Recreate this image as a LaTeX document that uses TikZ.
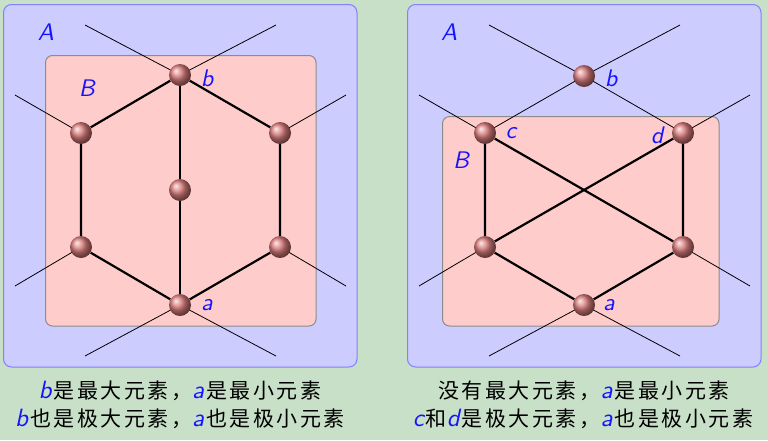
\documentclass[tikz,border=0pt]{standalone}
\usepackage{fontspec}
\newfontfamily\cjk[LetterSpace=12]{Noto Sans CJK SC}
\newfontfamily\mvfont[Extension=.otf]{lmsans10-oblique}
\usetikzlibrary{shadings}
\definecolor{bgc}{RGB}{200,223,200}
\definecolor{boxa}{RGB}{204,204,255}
\definecolor{boxaedge}{RGB}{130,130,250}
\definecolor{boxb}{RGB}{255,204,204}
\definecolor{boxbedge}{RGB}{140,140,140}
\definecolor{ballc}{RGB}{220,125,125}
\definecolor{lab}{RGB}{20,20,255}
\newcommand\mv[1]{{\color{lab}\mvfont #1}}
\newcommand\mvc[1]{{\color{lab}\mvfont\fontsize{25}{26}\selectfont #1\kern2pt}}
\pgfdeclarelayer{bgl}
\pgfdeclarelayer{boxes}
\pgfdeclarelayer{edges}
\pgfsetlayers{bgl,boxes,edges,main}
\tikzset{
  vtx/.style={circle, minimum size=22pt, inner sep=0pt, shading=ball, ball color=ballc},
  seta/.style={fill=boxa, draw=boxaedge, line width=1pt, rounded corners=8pt},
  setb/.style={fill=boxb, draw=boxbedge, line width=1pt, rounded corners=7pt},
  thick edge/.style={line width=2.2pt, black},
  thin edge/.style={line width=0.8pt, black},
  lbl/.style={font=\fontsize{24}{26}\selectfont, inner sep=0pt, text=lab},
  captxt/.style={font=\fontsize{21}{23}\selectfont\cjk, inner sep=0pt, anchor=center}
}
\begin{document}
\begin{tikzpicture}[x=1pt,y=-1pt]
\begin{pgfonlayer}{bgl}
\fill[bgc] (0,0) rectangle (768,440);
\end{pgfonlayer}
\useasboundingbox (0,0) rectangle (768,440);
% ---------- left panel ----------
\begin{pgfonlayer}{boxes}
\draw[seta] (3.5,4.5) rectangle (357,367);
\draw[setb] (45.5,55.5) rectangle (316,326);
\end{pgfonlayer}
\node[vtx] (Lb) at (180,75) {};
\node[vtx] (Ltl) at (81,133) {};
\node[vtx] (Ltr) at (280,133) {};
\node[vtx] (Lm) at (180,190) {};
\node[vtx] (Lbl) at (81,247) {};
\node[vtx] (Lbr) at (280,247) {};
\node[vtx] (La) at (180,305) {};
\coordinate (Le1) at (85,25);
\coordinate (Le2) at (276,25);
\coordinate (Le3) at (15,95);
\coordinate (Le4) at (346,95);
\coordinate (Le5) at (15,286);
\coordinate (Le6) at (346,286);
\coordinate (Le7) at (85,356);
\coordinate (Le8) at (276,356);
\begin{pgfonlayer}{edges}
\draw[thin edge] (Le1) -- (Lb.center) -- (Le2);
\draw[thin edge] (Ltl.center) -- (Le3);
\draw[thin edge] (Ltr.center) -- (Le4);
\draw[thin edge] (Lbl.center) -- (Le5);
\draw[thin edge] (Lbr.center) -- (Le6);
\draw[thin edge] (Le7) -- (La.center) -- (Le8);
\draw[thick edge] (Lb) -- (Ltl) -- (Lbl) -- (La);
\draw[thick edge] (Lb) -- (Ltr) -- (Lbr) -- (La);
\draw[thick edge] (Lb) -- (Lm) -- (La);
\end{pgfonlayer}
\node[lbl] (LA) at (46,32) {\mv{A}};
\node[lbl] (LB) at (87,88) {\mv{B}};
\node[lbl] (Llb) at (207,78) {\mv{b}};
\node[lbl] (Lla) at (207,305) {\mv{a}};
\node[captxt] (Lc1) at (180,391) {\mvc{b}是最大元素，\mvc{a}是最小元素};
\node[captxt] (Lc2) at (180,419) {\mvc{b}也是极大元素，\mvc{a}也是极小元素};
% ---------- right panel ----------
\begin{pgfonlayer}{boxes}
\draw[seta] (407.5,4.5) rectangle (761,367);
\draw[setb] (442.5,116.5) rectangle (719,326);
\end{pgfonlayer}
\node[vtx] (Rb) at (584,76) {};
\node[vtx] (Rc) at (485,133) {};
\node[vtx] (Rd) at (683,133) {};
\node[vtx] (Rbl) at (485,247) {};
\node[vtx] (Rbr) at (683,247) {};
\node[vtx] (Ra) at (584,305) {};
\coordinate (Re1) at (489,25);
\coordinate (Re2) at (680,25);
\coordinate (Re3) at (419,95);
\coordinate (Re4) at (750,95);
\coordinate (Re5) at (419,286);
\coordinate (Re6) at (750,286);
\coordinate (Re7) at (489,356);
\coordinate (Re8) at (680,356);
\begin{pgfonlayer}{edges}
\draw[thin edge] (Re1) -- (Rb.center) -- (Rd.center) -- (Re4);
\draw[thin edge] (Re2) -- (Rb.center) -- (Rc.center) -- (Re3);
\draw[thin edge] (Rbl.center) -- (Re5);
\draw[thin edge] (Rbr.center) -- (Re6);
\draw[thin edge] (Re7) -- (Ra.center) -- (Re8);
\draw[thick edge] (Rc) -- (Rbl) -- (Ra) -- (Rbr) -- (Rd);
\draw[thick edge] (Rc) -- (Rbr);
\draw[thick edge] (Rd) -- (Rbl);
\end{pgfonlayer}
\node[lbl] (RA) at (449,32) {\mv{A}};
\node[lbl] (RB) at (461,160) {\mv{B}};
\node[lbl] (Rlb) at (611,78) {\mv{b}};
\node[lbl] (Rlc) at (511,133) {\mv{c}};
\node[lbl] (Rld) at (657,135) {\mv{d}};
\node[lbl] (Rla) at (609,305) {\mv{a}};
\node[captxt] (Rc1) at (584,391) {没有最大元素，\mvc{a}是最小元素};
\node[captxt] (Rc2) at (583,419) {\mvc{c}和\mvc{d}是极大元素，\mvc{a}也是极小元素};
\end{tikzpicture}
\end{document}
